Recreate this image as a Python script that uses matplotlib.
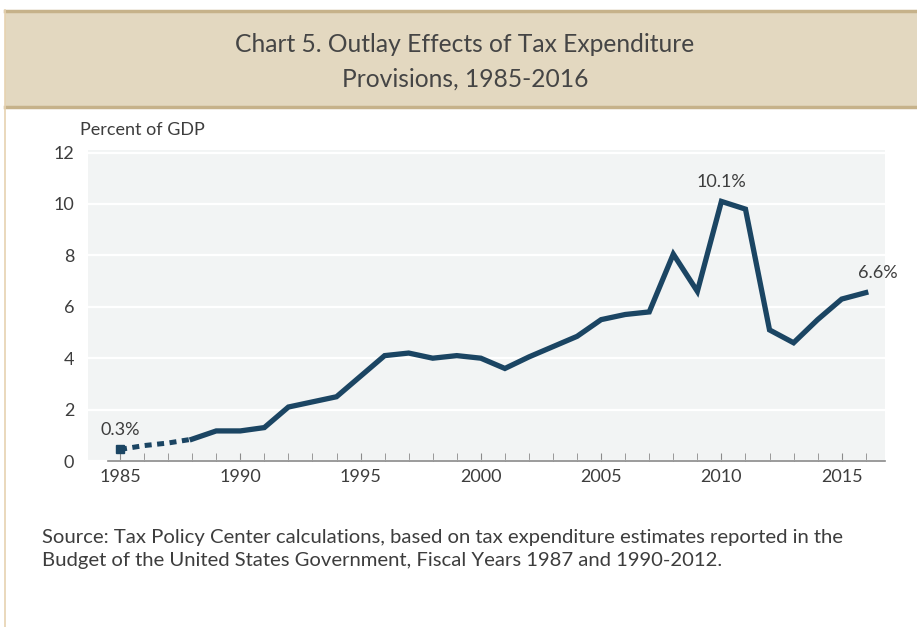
import numpy as np
import matplotlib.pyplot as plt
from matplotlib.patches import Rectangle
from matplotlib.lines import Line2D

years = list(range(1985, 2017))
pct_gdp = [0.45, 0.6, 0.7, 0.85, 1.17, 1.17, 1.3, 2.1, 2.3, 2.5,
           3.3, 4.1, 4.2, 4.0, 4.1, 4.0, 3.6, 4.05, 4.45, 4.85,
           5.5, 5.7, 5.8, 8.05, 6.6, 10.1, 9.8, 5.1, 4.6, 5.5,
           6.3, 6.55]
dash_end = 1988
yticks = [0, 2, 4, 6, 8, 10, 12]
xticks = [1985, 1990, 1995, 2000, 2005, 2010, 2015]
callouts = [(1985, "0.3%"), (2010, "10.1%"), (2016, "6.6%")]

title = "Chart 5. Outlay Effects of Tax Expenditure\nProvisions, 1985-2016"
source = ("Source: Tax Policy Center calculations, based on tax expenditure estimates reported in the\n"
          "Budget of the United States Government, Fiscal Years 1987 and 1990-2012.")

navy = '#1b4563'
txt = '#3d3d3d'
plt.rcParams['font.family'] = ['Lato', 'DejaVu Sans']

fig = plt.figure(figsize=(9.17, 6.27), dpi=100)
fig.patch.set_facecolor('white')

# title band
fig.patches.append(Rectangle((5/917, 1-108/627), 1, 98/627, transform=fig.transFigure,
                             facecolor='#e3d8c0', edgecolor='none', zorder=0))
for yy in (1-11/627, 1-107/627):
    fig.add_artist(Line2D([5/917, 1], [yy, yy], transform=fig.transFigure,
                          color='#c6b28a', lw=2.5))
fig.add_artist(Line2D([5/917, 5/917], [0, 1-10/627], transform=fig.transFigure,
                      color='#e6d2b0', lw=1.2))
fig.text(0.507, 1-62/627, title, ha='center', va='center', fontsize=17.7,
         color='#454545', linespacing=1.6)

ax = fig.add_axes([88/917, 1-461/627, 797/917, 311/627])
ax.set_facecolor('#f2f4f4')
x = np.array(years)
y = np.array(pct_gdp)
d = x <= dash_end
ax.plot(x[d], y[d], color=navy, lw=3.6, ls=(0, (1.4, 1.1)), solid_capstyle='butt', zorder=3)
ax.plot(x[x >= dash_end], y[x >= dash_end], color=navy, lw=3.8, solid_joinstyle='miter', zorder=3)
ax.plot([x[0]], [y[0]], marker='s', ms=6, color=navy, zorder=4)

ax.set_xlim(1983.67, 2016.8)
ax.set_ylim(0, 12.1)
ax.set_yticks(yticks)
ax.set_yticklabels([str(t) for t in yticks])
ax.set_xticks(xticks)
ax.set_xticks(years, minor=True)
ax.grid(axis='y', color='white', lw=1.6)
ax.set_axisbelow(True)
for s in ('top', 'right', 'left'):
    ax.spines[s].set_visible(False)
ax.spines['bottom'].set_color('#8a8a8a')
ax.spines['bottom'].set_linewidth(1.2)
ax.spines['bottom'].set_bounds(1984.5, 2016.8)
ax.tick_params(axis='y', length=0, pad=10, labelsize=13, labelcolor=txt)
ax.tick_params(axis='x', which='both', direction='in', length=6, color='#8a8a8a',
               labelsize=13, labelcolor=txt, pad=6)

for yr, lab in callouts:
    v = pct_gdp[years.index(yr)]
    dx = 0.5 if yr == 2016 else 0
    ax.text(yr + dx, v + 0.45, lab, ha='center', va='bottom', fontsize=13, color=txt)

fig.text(80/917, 1-130/627, "Percent of GDP", ha='left', va='center', fontsize=13,
         color=txt)
fig.text(42/917, 1-549/627, source, ha='left', va='center', fontsize=14.6,
         color=txt, linespacing=1.45)

fig.savefig('out.png', dpi=100)
